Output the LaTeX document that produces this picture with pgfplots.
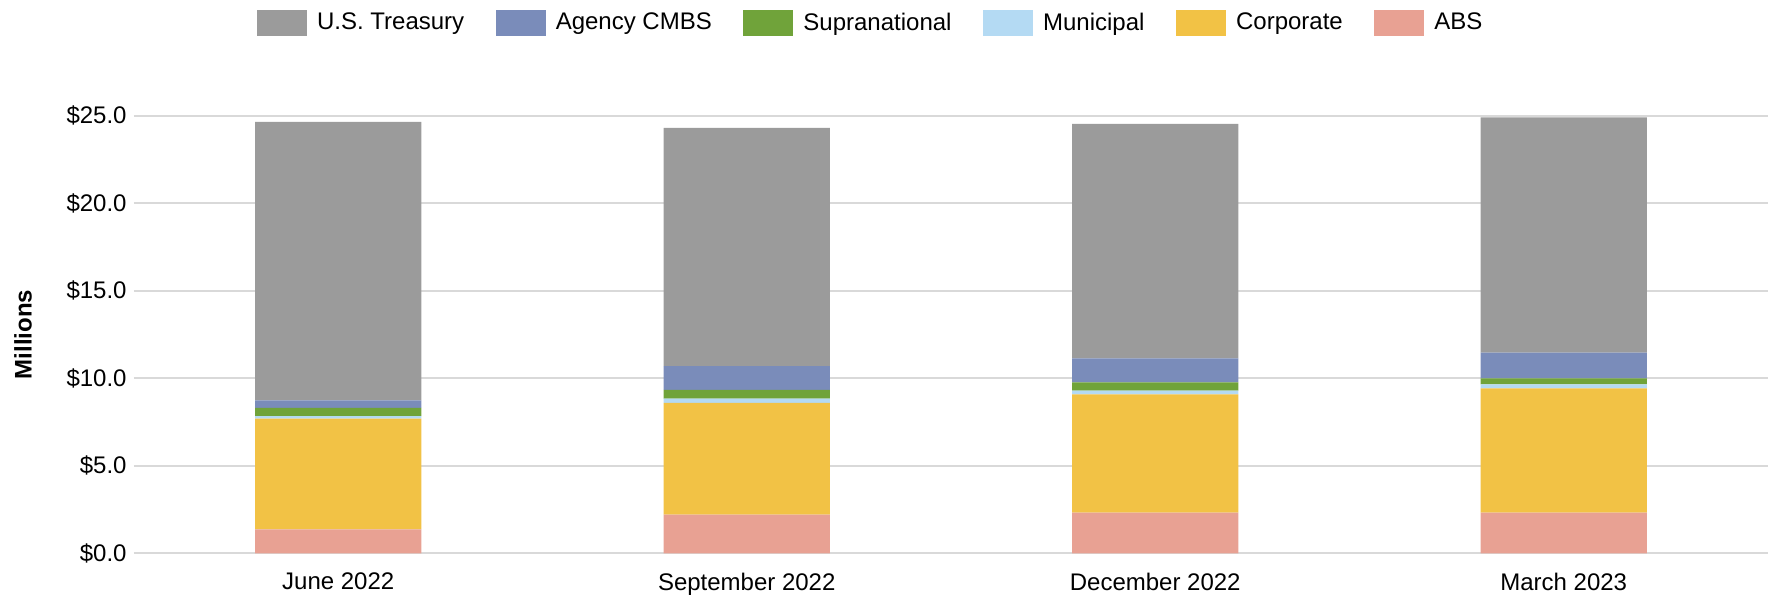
\documentclass[border=0pt]{standalone}
\usepackage{pgfplots}
\pgfplotsset{compat=1.18}
\usepackage{fontspec}
\setmainfont{Liberation Sans}
\definecolor{ctreas}{HTML}{9B9B9B}
\definecolor{cagency}{HTML}{7A8CBA}
\definecolor{csupra}{HTML}{70A33A}
\definecolor{cmuni}{HTML}{B4DAF3}
\definecolor{ccorp}{HTML}{F2C245}
\definecolor{cabs}{HTML}{E8A193}
\definecolor{cgrid}{HTML}{D9D9D9}
\begin{document}
\begin{tikzpicture}
\begin{axis}[
  scale only axis,
  width=817pt, height=218.8pt,
  ybar stacked,
  bar width=0.407,
  xmin=-0.5, xmax=3.5,
  ymin=0, ymax=25,
  xtick={0,1,2,3},
  xticklabels={June 2022,September 2022,December 2022,March 2023},
  ytick={0,5,10,15,20,25},
  yticklabels={\$0.0,\$5.0,\$10.0,\$15.0,\$20.0,\$25.0},
  major tick length=0pt,
  axis line style={draw=none},
  ymajorgrids,
  grid style={cgrid, line width=1pt},
  tick label style={font=\fontsize{12pt}{14pt}\selectfont, text=black},
  yticklabel style={inner sep=0pt, xshift=-3.5pt},
  xticklabel style={inner sep=0pt, yshift=-9.5pt},
  ylabel={\textbf{Millions}},
  ylabel style={at={(axis description cs:0,0.5)}, anchor=center, yshift=55.5pt, font=\fontsize{12pt}{14pt}\selectfont},
  reverse legend,
  legend columns=6,
  legend style={draw=none, fill=none, inner sep=0pt, outer sep=0pt,
    nodes={inner sep=0pt},
    at={(axis description cs:0.0753,1.242)}, anchor=north west,
    font=\fontsize{12pt}{14pt}\selectfont,
    /tikz/every odd column/.append style={column sep=5pt},
    /tikz/every even column/.append style={column sep=15.8pt}},
  legend cell align=left,
  legend image code/.code={\fill[#1] (0pt,-6.6pt) rectangle (25pt,6.6pt);},
]
\addplot[fill=cabs, draw=none] coordinates {(0,1.37) (1,2.21) (2,2.32) (3,2.32)};
\addplot[fill=ccorp, draw=none] coordinates {(0,6.32) (1,6.39) (2,6.76) (3,7.10)};
\addplot[fill=cmuni, draw=none] coordinates {(0,0.14) (1,0.23) (2,0.22) (3,0.23)};
\addplot[fill=csupra, draw=none] coordinates {(0,0.48) (1,0.51) (2,0.46) (3,0.34)};
\addplot[fill=cagency, draw=none] coordinates {(0,0.43) (1,1.35) (2,1.37) (3,1.48)};
\addplot[fill=ctreas, draw=none] coordinates {(0,15.90) (1,13.61) (2,13.40) (3,13.43)};
\legend{ABS,Corporate,Municipal,Supranational,Agency CMBS,U.S. Treasury}
\coordinate (bl) at (rel axis cs:0,0);
\end{axis}
\pgfresetboundingbox
\path (bl) ++(-67pt,-20.85pt) rectangle ++(884.5pt,297.5pt);
\end{tikzpicture}
\end{document}
